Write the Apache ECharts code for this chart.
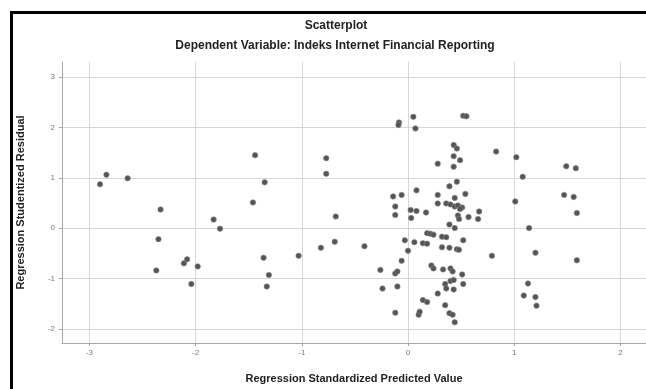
<!DOCTYPE html>
<html>
<head>
<meta charset="utf-8">
<script src="https://cdn.jsdelivr.net/npm/echarts@6/dist/echarts.min.js"></script>
<style>
html,body{margin:0;padding:0;background:#fff;}
#c{width:646px;height:389px;}
</style>
</head>
<body>
<div id="c"></div>
<script>
const titleText = 'Scatterplot';
const subtitleText = 'Dependent Variable: Indeks Internet Financial Reporting';
const xAxisTitle = 'Regression Standardized Predicted Value';
const yAxisTitle = 'Regression Studentized Residual';
const xTicks = [-3, -2, -1, 0, 1, 2];
const yTicks = [-2, -1, 0, 1, 2, 3];

// Regression Standardized Predicted Value
const predicted = [
  -2.90, -2.84, -2.64, -2.33, -2.35, -2.37, -2.08, -2.11, -1.98, -2.04,
  -1.83, -1.77, -1.44, -1.35, -1.46, -1.36, -1.31, -1.33, -1.03, -0.77,
  -0.77, -0.68, -0.69, -0.82, -0.41, -0.26, -0.24,
  0.05, -0.085, -0.09, 0.07, 0.08, -0.14, -0.06, -0.12, -0.12, 0.025,
  0.08, 0.17, 0.03, -0.03, 0.06, 0.14, 0.18, 0.00, -0.06, -0.12,
  -0.10, -0.10, -0.12, 0.10, 0.11, 0.14, 0.18, 0.28, 0.22, 0.24,
  0.18, 0.21, 0.24,
  0.28, 0.28, 0.28, 0.52, 0.55, 0.43, 0.46, 0.43, 0.49, 0.43,
  0.46, 0.39, 0.54, 0.44, 0.36, 0.40, 0.44, 0.47, 0.51, 0.49,
  0.47, 0.57, 0.67, 0.66, 0.48, 0.39, 0.44, 0.32, 0.36, 0.52,
  0.32, 0.39, 0.46, 0.48, 0.33, 0.40, 0.42, 0.51, 0.35, 0.40,
  0.43, 0.52, 0.36, 0.43, 0.35, 0.39, 0.42, 0.44,
  0.83, 1.02, 1.08, 1.49, 1.58, 1.47, 1.56, 1.59, 1.01, 1.14,
  1.20, 1.59, 0.79, 1.13, 1.09, 1.20, 1.21
];
// Regression Studentized Residual
const residual = [
  0.87, 1.06, 0.99, 0.37, -0.22, -0.84, -0.62, -0.70, -0.76, -1.11,
  0.17, -0.01, 1.45, 0.91, 0.51, -0.59, -0.93, -1.16, -0.55, 1.39,
  1.08, 0.23, -0.27, -0.39, -0.36, -0.83, -1.20,
  2.21, 2.10, 2.05, 1.98, 0.75, 0.63, 0.66, 0.43, 0.26, 0.36,
  0.34, 0.31, 0.20, -0.24, -0.28, -0.30, -0.31, -0.45, -0.65, -0.90,
  -0.86, -1.16, -1.68, -1.72, -1.66, -1.43, -1.47, -1.30, -0.74, -0.80,
  -0.10, -0.11, -0.13,
  1.28, 0.66, 0.49, 2.23, 2.22, 1.65, 1.58, 1.43, 1.35, 1.22,
  0.92, 0.83, 0.68, 0.60, 0.49, 0.47, 0.43, 0.45, 0.41, 0.38,
  0.25, 0.22, 0.33, 0.18, 0.18, 0.07, 0.00, -0.17, -0.18, -0.24,
  -0.38, -0.39, -0.42, -0.43, -0.82, -0.80, -0.86, -0.92, -1.11, -1.05,
  -1.03, -1.11, -1.20, -1.22, -1.53, -1.69, -1.72, -1.87,
  1.52, 1.41, 1.02, 1.23, 1.19, 0.66, 0.62, 0.30, 0.53, 0.00,
  -0.49, -0.64, -0.55, -1.10, -1.34, -1.37, -1.54
];

const points = predicted.map((x, i) => [x, residual[i]]);
const FONT = '"Liberation Sans", Arial, sans-serif';

const chart = echarts.init(document.getElementById('c'), null, {renderer: 'canvas'});
chart.setOption({
  animation: false,
  backgroundColor: '#ffffff',
  grid: {left: 62, right: 0, top: 62, bottom: 44, containLabel: false},
  xAxis: {
    type: 'value',
    min: -3.258, max: 2.241,
    axisLine: {show: true, onZero: false, lineStyle: {color: '#a8a8a8', width: 1}},
    axisTick: {show: true, length: 3, customValues: xTicks, lineStyle: {color: '#a8a8a8'}},
    axisLabel: {customValues: xTicks, color: '#777', fontSize: 8, fontFamily: FONT, margin: 6},
    splitLine: {show: true, lineStyle: {color: '#d6d6d6', width: 1}},
    name: xAxisTitle, nameLocation: 'middle', nameGap: 30,
    nameTextStyle: {color: '#222', fontSize: 11, fontWeight: 'bold', fontFamily: FONT}
  },
  yAxis: {
    type: 'value',
    min: -2.282, max: 3.3,
    axisLine: {show: true, onZero: false, lineStyle: {color: '#a8a8a8', width: 1}},
    axisTick: {show: true, length: 3, customValues: yTicks, lineStyle: {color: '#a8a8a8'}},
    axisLabel: {customValues: yTicks, color: '#777', fontSize: 8, fontFamily: FONT, margin: 7},
    splitLine: {show: true, lineStyle: {color: '#d6d6d6', width: 1}},
    name: yAxisTitle, nameLocation: 'middle', nameGap: 36,
    nameTextStyle: {color: '#222', fontSize: 11, fontWeight: 'bold', fontFamily: FONT}
  },
  series: [{
    type: 'scatter',
    data: points,
    symbol: 'circle',
    symbolSize: 5.5,
    itemStyle: {color: '#555555', borderColor: '#8a8a8a', borderWidth: 0.6, opacity: 1}
  }],
  graphic: [
    {type: 'rect', shape: {x: 11.5, y: 12.5, width: 700, height: 500},
     style: {fill: 'none', stroke: '#000', lineWidth: 3}, silent: true},
    {type: 'text', x: 336, y: 26, style: {text: titleText, fill: '#222', font: 'bold 12px ' + FONT, textAlign: 'center', textVerticalAlign: 'middle'}},
    {type: 'text', x: 335, y: 46, style: {text: subtitleText, fill: '#222', font: 'bold 12px ' + FONT, textAlign: 'center', textVerticalAlign: 'middle'}}
  ]
});
</script>
</body>
</html>
